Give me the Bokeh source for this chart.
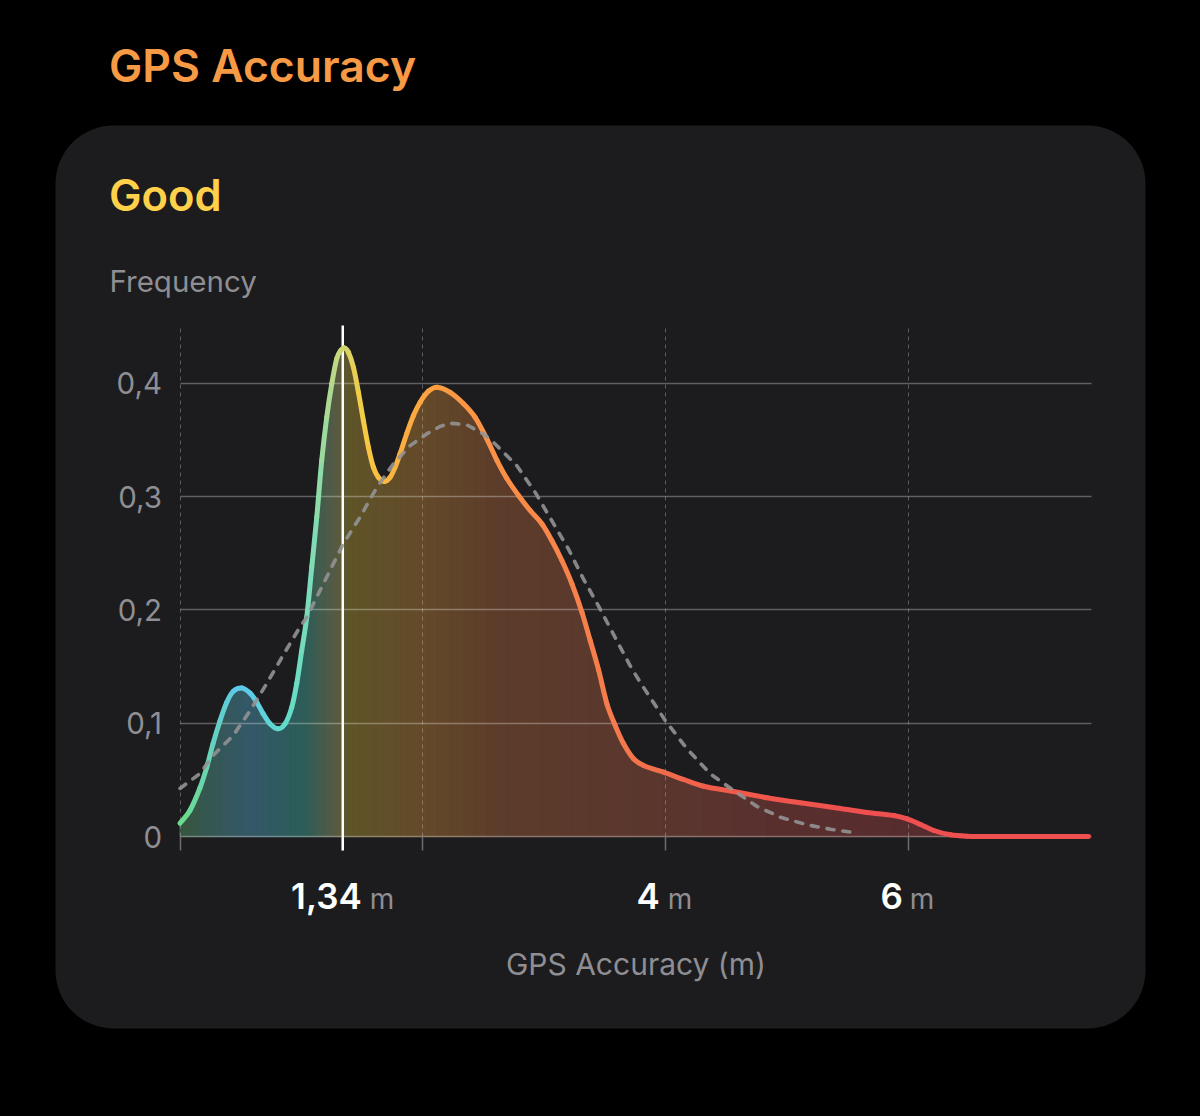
from bokeh.plotting import figure
from bokeh.models import BoxAnnotation, Label, FixedTicker, Range1d, LinearAxis, Grid
from bokeh.embed import file_html
from bokeh.resources import INLINE

# ---------- data ----------
accuracy_m = [0, .082, .165, .220, .272, .329, .385, .437, .508, .577, .632, .684, .741, .807, .865, .920, .961,
              1.002, 1.044, 1.085, 1.126, 1.167, 1.208, 1.250, 1.291, 1.324, 1.353, 1.386, 1.428, 1.469, 1.510,
              1.551, 1.592, 1.633, 1.683, 1.730, 1.771, 1.812, 1.867, 1.922, 1.977, 2.045, 2.117, 2.224, 2.334,
              2.430, 2.526, 2.609, 2.691, 2.787, 2.883, 2.979, 3.062, 3.144, 3.227, 3.309, 3.377, 3.446, 3.515,
              3.583, 3.652, 3.734, 3.816, 3.981, 4.146, 4.311, 4.558, 4.833, 5.107, 5.381, 5.657, 5.876, 5.986,
              6.096, 6.205, 6.343, 6.480, 6.755, 7.48]
frequency = [.0117, .023, .043, .061, .082, .102, .1185, .128, .131, .1265, .1185, .1085, .0995, .095, .0995, .114,
             .135, .164, .194, .238, .282, .332, .370, .3998, .422, .429, .4313, .4275, .414, .392, .367, .3436,
             .326, .317, .3133, .317, .326, .338, .3557, .3716, .3833, .393, .3966, .392, .382, .370, .351, .332,
             .316, .301, .2877, .276, .261, .2436, .223, .198, .173, .147, .117, .098, .0818, .0686, .0627, .0568,
             .0503, .0444, .0397, .0342, .0297, .0256, .0212, .0185, .0156, .0106, .0053, .0015, .0003, 0, 0]
normal_x_m = [0, .165, .272, .437, .577, .714, .849, .988, 1.044, 1.208, 1.345, 1.483, 1.620, 1.757, 1.895, 2.032,
              2.142, 2.224, 2.362, 2.497, 2.580, 2.662, 2.772, 2.923, 3.060, 3.197, 3.321, 3.458, 3.581, 3.705, 3.789,
              3.995, 4.174, 4.366, 4.558, 4.751, 4.943, 5.163, 5.354, 5.546]
normal_freq = [.0424, .0556, .0715, .089, .111, .135, .160, .185, .1936, .229, .2585, .282, .308, .329, .345, .3554,
               .362, .3648, .3633, .3553, .3480, .3392, .3274, .3039, .2789, .2539, .2274, .2010, .1759, .1509, .1360,
               .1024, .0774, .0553, .0406, .0265, .017, .0103, .0064, .0035]
marker_value = 1.34
y_ticks = [0, 0.1, 0.2, 0.3, 0.4]
y_tick_labels = ["0", "0,1", "0,2", "0,3", "0,4"]
x_grid_ticks = [0, 2, 4, 6]
x_axis_ticks = [0, 1.34, 2, 4, 6]
x_value_ticks = [1.34, 4, 6]
x_value_labels = ["1,34", "4", "6"]
x_unit = "m"
title_text = "GPS Accuracy"
rating_text = "Good"
y_title = "Frequency"
x_title = "GPS Accuracy (m)"

# ---------- styles ----------
LINE_STOPS = [(0, "#6fdd85"), (.5, "#5cc8ec"), (.9, "#62dcc8"), (1.1, "#7fdcb4"), (1.3, "#c4d880"), (1.5, "#f5cc45"),
              (1.8, "#fbb040"), (2.2, "#fb9a42"), (3, "#f9874a"), (3.6, "#f47a4c"), (4.5, "#ef5a4a"), (5.5, "#ee5050"),
              (7.5, "#ee5050")]
FILL_STOPS = [(0, "#36563f"), (.57, "#345868"), (1.03, "#2c5d58"), (1.3, "#5a5a42"), (1.4, "#5e5428"), (1.98, "#644a2a"),
              (2.63, "#5c3c2a"), (4.1, "#5a352e"), (5.1, "#592e2e"), (6, "#572c2e"), (7.5, "#572c2e")]


def blend(stops, x):
    for (x0, c0), (x1, c1) in zip(stops, stops[1:]):
        if x <= x1:
            t = (x - x0) / (x1 - x0)
            a = [int(c0[i:i + 2], 16) for i in (1, 3, 5)]
            b = [int(c1[i:i + 2], 16) for i in (1, 3, 5)]
            return "#%02x%02x%02x" % tuple(round(p + (q - p) * t) for p, q in zip(a, b))
    return stops[-1][1]


GREY = "#8e8e93"
FONT = "Inter"
HEAVY = "Inter SemiBold"
W, H = 1200, 1116
PX_X = 911 / 7.5      # pixels per metre
PX_Y = 1133.0         # pixels per unit of frequency
X0, Y0 = 179.5, 836   # canvas position of (0, 0)
Y_TOP = 511 / PX_Y
Y_BOT = -14 / PX_Y
BASE = 0.41           # how far Label's baseline sits below its anchor, in font sizes

p = figure(width=W, height=H, output_backend="svg", toolbar_location=None,
           x_range=Range1d(-X0 / PX_X, (W - X0) / PX_X), y_range=Range1d((Y0 - H) / PX_Y, Y0 / PX_Y),
           x_axis_type=None, y_axis_type=None, min_border=0)
p.border_fill_color = "#000000"
p.background_fill_color = "#000000"
p.outline_line_color = None
p.grid.visible = False

# card (screen y counts upwards from the bottom of the frame)
p.add_layout(BoxAnnotation(left=55, right=1145, top=H - 125, bottom=H - 1028,
                           left_units="screen", right_units="screen", top_units="screen", bottom_units="screen",
                           fill_color="#1c1c1e", fill_alpha=1, line_color=None, border_radius=58, level="image"))

# gradient fill under the curve
pairs = list(zip(accuracy_m, frequency))
segs = list(zip(pairs, pairs[1:]))
mids = [(a[0] + b[0]) / 2 for a, b in segs]
fills = [blend(FILL_STOPS, m) for m in mids]
p.patches([[a[0], b[0], b[0], a[0]] for a, b in segs], [[0, 0, b[1], a[1]] for a, b in segs],
          fill_color=fills, line_color=fills, line_width=1.5, level="underlay")

# axes and grids
xa = LinearAxis(ticker=FixedTicker(ticks=x_axis_ticks), fixed_location=Y_BOT, bounds=(0, 7.5))
xa.major_tick_in = 14
xa.major_tick_out = 0
xa.minor_tick_line_color = None
xa.axis_line_color = None
xa.major_tick_line_color = "#6c6c6e"
xa.major_tick_line_width = 1.5
xa.major_label_overrides = {t: "" for t in x_axis_ticks}
xa.axis_label = x_title
xa.axis_label_text_font = FONT
xa.axis_label_text_font_size = "30px"
xa.axis_label_text_font_style = "normal"
xa.axis_label_text_color = GREY
xa.axis_label_standoff = 95
p.add_layout(xa, "below")

ya = LinearAxis(ticker=FixedTicker(ticks=y_ticks), fixed_location=0, bounds=(0, 0.4))
ya.major_label_overrides = dict(zip(y_ticks, y_tick_labels))
ya.major_tick_line_color = None
ya.minor_tick_line_color = None
ya.major_tick_in = 0
ya.major_tick_out = 0
ya.axis_line_color = None
ya.major_label_standoff = 18
ya.major_label_text_font = FONT
ya.major_label_text_font_size = "29.5px"
ya.major_label_text_color = GREY
p.add_layout(ya, "left")

xg = Grid(dimension=0, ticker=FixedTicker(ticks=x_grid_ticks), cross_bounds=(0, Y_TOP),
          grid_line_color="#ffffff", grid_line_alpha=0.28, grid_line_width=1, grid_line_dash=[4, 4], level="glyph")
yg = Grid(dimension=1, ticker=FixedTicker(ticks=y_ticks), cross_bounds=(0, 7.5),
          grid_line_color="#ffffff", grid_line_alpha=0.3, grid_line_width=1.5, level="glyph")
p.add_layout(xg)
p.add_layout(yg)

# marker line
p.segment([marker_value], [Y_BOT], [marker_value], [Y_TOP], line_color="#ffffff", line_width=2.5, level="annotation")

# coloured curve: one Bezier per pair of read points, tangents from the neighbouring points
n = len(accuracy_m)
slope = [(frequency[min(i + 1, n - 1)] - frequency[max(i - 1, 0)]) /
         (accuracy_m[min(i + 1, n - 1)] - accuracy_m[max(i - 1, 0)]) for i in range(n)]
h = [accuracy_m[i + 1] - accuracy_m[i] for i in range(n - 1)]
p.bezier(x0=accuracy_m[:-1], y0=frequency[:-1], x1=accuracy_m[1:], y1=frequency[1:],
         cx0=[accuracy_m[i] + h[i] / 3 for i in range(n - 1)],
         cy0=[frequency[i] + slope[i] * h[i] / 3 for i in range(n - 1)],
         cx1=[accuracy_m[i + 1] - h[i] / 3 for i in range(n - 1)],
         cy1=[frequency[i + 1] - slope[i + 1] * h[i] / 3 for i in range(n - 1)],
         line_color=[blend(LINE_STOPS, m) for m in mids], line_width=5, line_cap="round", level="overlay")
# dashed normal curve
p.line(normal_x_m, normal_freq, line_color="#929294", line_alpha=0.9, line_width=3.6, line_dash=[7, 9],
       line_cap="round", line_join="round", level="overlay")


def screen_label(text, x, y, size, color, font=FONT):
    p.add_layout(Label(x=x, y=H - y + BASE * size, x_units="screen", y_units="screen", text=text,
                       text_font=font, text_font_size=f"{size}px", text_color=color,
                       text_align="left", text_baseline="alphabetic"))


screen_label(title_text, 108.5, 84, 44.5, "#f79a45", HEAVY)
screen_label(rating_text, 108.5, 212, 43.5, "#ffd04a", HEAVY)
screen_label(y_title, 109, 293, 29.5, GREY)

value_offsets = [19, -6, -6]
unit_offsets = [27, 2, 1]
for t, lab, vo, uo in zip(x_value_ticks, x_value_labels, value_offsets, unit_offsets):
    p.add_layout(Label(x=t, y=0, x_offset=vo, y_offset=-74 + BASE * 35, text=lab, text_font=HEAVY,
                       text_font_size="35px", text_color="#ffffff",
                       text_align="right", text_baseline="alphabetic"))
    p.add_layout(Label(x=t, y=0, x_offset=uo, y_offset=-74 + BASE * 28, text=x_unit, text_font=FONT,
                       text_font_size="28px", text_color=GREY, text_align="left", text_baseline="alphabetic"))

html = file_html(p, INLINE).replace("<head>", "<head><style>html,body{background:#000}</style>", 1)
open("out.html", "w").write(html)
